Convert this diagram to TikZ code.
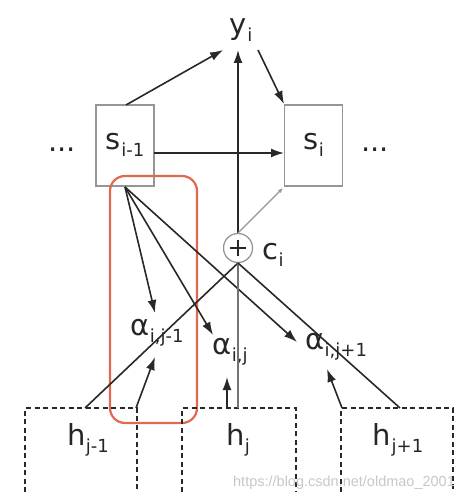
\documentclass[tikz,border=0pt]{standalone}
\usepackage{fontspec}
\setmainfont{DejaVu Sans}
\newfontfamily\wmfont{Liberation Sans}
\usetikzlibrary{arrows.meta}
\definecolor{redbox}{RGB}{226,104,80}
\definecolor{linec}{RGB}{40,40,40}
\definecolor{boxc}{RGB}{150,150,150}
\newcommand{\sbs}[1]{\kern0.5pt\raisebox{-7pt}{\fontsize{18}{18}\selectfont #1}}
\tikzset{
  lbl/.style={inner sep=0pt, font=\fontsize{29}{29}\selectfont, text=black!85},
  sbox/.style={draw=boxc, line width=1.3pt, minimum width=58pt, minimum height=81pt, inner sep=0pt},
  con/.style={draw=linec, line width=1.6pt},
  arr/.style={con, -{Latex[length=13pt,width=9pt]}},
  hbox/.style={draw=linec, line width=1.5pt, dash pattern=on 5pt off 3.5pt},
}
\begin{document}
\begin{tikzpicture}[x=1pt,y=-1pt]
\useasboundingbox (0,0) rectangle (474,502);
% state boxes
\node[sbox] (sp) at (125,145.5) {};
\node[lbl] (spt) at (125,145) {s\sbs{i-1}};
\node[sbox] (si) at (313.5,145.5) {};
\node[lbl] (sit) at (313.5,145) {s\sbs{i}};
\node[lbl] (dl) at (62,150) {...};
\node[lbl] (dr) at (375,150) {...};
\node[lbl] (y) at (241,30) {y\sbs{i}};
% plus circle
\node[draw=boxc, line width=1.3pt, circle, minimum size=29pt, inner sep=0pt] (c) at (238,248) {};
\draw[line width=2.4pt, black!85] (230,248) -- (246,248) (238,240) -- (238,256);
\node[lbl] (ct) at (273,255) {c\sbs{i}};
% alpha labels
\node[lbl] (a1) at (157,333) {α\sbs{i,j-1}};
\node[lbl] (a2) at (230,352) {α\sbs{i,j}};
\node[lbl] (a3) at (336,347) {α\sbs{i,j+1}};
% h labels
\node[lbl] (h1) at (88,440) {h\sbs{j-1}};
\node[lbl] (h2) at (238,440) {h\sbs{j}};
\node[lbl] (h3) at (398,440) {h\sbs{j+1}};
% coordinates
\coordinate (spb) at (125,187);
\coordinate (spn) at (126,105);
\coordinate (yl) at (223,50);
\coordinate (yr) at (258,50);
\coordinate (yb) at (238,50);
\coordinate (sinw) at (284,104);
\coordinate (siw) at (284,153);
\coordinate (spe) at (154,153);
\coordinate (sisw) at (283,188);
\coordinate (ctop) at (238,233);
\coordinate (cbot) at (238,263);
\coordinate (ta1) at (155,313);
\coordinate (ta2) at (213,335);
\coordinate (ta3) at (297,342);
\coordinate (ba1) at (155,357);
\coordinate (ba2) at (227,377);
\coordinate (ba3) at (327,369);
\coordinate (hb1) at (85,408);
\coordinate (hb1r) at (136,408);
\coordinate (hb2) at (238,408);
\coordinate (hb2a) at (227,408);
\coordinate (hb3) at (400,408);
\coordinate (hb3l) at (342,408);
% red highlight
\draw[redbox, line width=2.2pt, rounded corners=15pt] (110,176) rectangle (197,423);
% dashed h boxes
\draw[hbox] (25,492) -- (25,408) -- (137,408) -- (137,492);
\draw[hbox] (182,492) -- (182,408) -- (296,408) -- (296,492);
\draw[hbox] (341,492) -- (341,408) -- (453,408) -- (453,492);
% connectors
\draw[arr] (spn) -- (yl);
\draw[arr] (yr) -- (sinw);
\draw[arr] (spe) -- (siw);
\draw[arr] (ctop) -- (yb);
\draw[con, draw=boxc, line width=1.1pt, -{Latex[length=5pt,width=4pt]}] (ctop) -- (sisw);
\draw[arr] (spb) -- (ta1);
\draw[arr] (spb) -- (ta2);
\draw[arr] (spb) -- (ta3);
\draw[con] (cbot) -- (hb1);
\draw[con, draw=black!55] (cbot) -- (hb2);
\draw[con] (cbot) -- (hb3);
\draw[arr] (hb1r) -- (ba1);
\draw[arr] (hb2a) -- (ba2);
\draw[arr] (hb3l) -- (ba3);
% watermark
\node[inner sep=0pt, text=black!22, font=\wmfont\fontsize{14.5}{14.5}\selectfont] (wm) at (344,483) {https://blog.csdn.net/oldmao\_2001};
\end{tikzpicture}
\end{document}
